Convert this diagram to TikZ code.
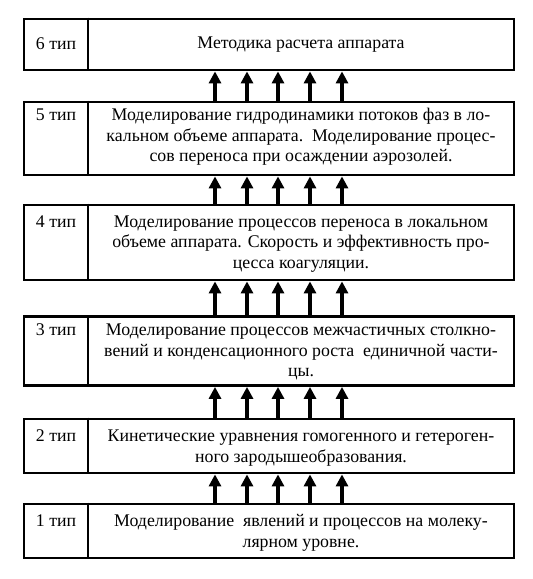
\documentclass[tikz,border=0pt]{standalone}
\usepackage{fontspec}
\setmainfont{Liberation Serif}
\usepackage{tikz}
\usetikzlibrary{positioning}
\usetikzlibrary{arrows.meta}
\tikzset{box/.style={draw, line width=2.8pt, minimum width=490pt, inner sep=0pt}}
\tikzset{txt/.style={align=center, font=\fontsize{17.8}{20.5}\selectfont, inner sep=0pt}}
\tikzset{up/.style={line width=3.6pt, -{Triangle[width=12pt,length=12pt]}}}

\begin{document}
\begin{tikzpicture}[x=1pt,y=-1pt]
\useasboundingbox (0,0) rectangle (533,579);
% boxes
\node[box, minimum height=51pt] (b6) at (269,44.5) {};
\node[box, minimum height=73pt] (b5) at (269,138.5) {};
\node[box, minimum height=75pt] (b4) at (269,242.5) {};
\node[box, minimum height=69pt] (b3) at (269,351) {};
\node[box, minimum height=54pt] (b2) at (269,446) {};
\node[box, minimum height=54pt] (b1) at (269,531) {};
\foreach \i in {1,...,6} {
\draw[line width=2.8pt] (b\i.north -| 88,0) -- (b\i.south -| 88,0);
}
% texts
\node[txt] (t6) at (301,45) {Методика расчета аппарата};
\node[txt] (t5) at (301,137) {Моделирование гидродинамики потоков фаз в ло-\\
кальном объеме аппарата.\ \ Моделирование процес-\\
сов переноса при осаждении аэрозолей.};
\node[txt] (t4) at (301,244) {Моделирование процессов переноса в локальном\\
объеме аппарата. Скорость и эффективность про-\\
цесса коагуляции.};
\node[txt] (t3) at (301,352) {Моделирование процессов межчастичных столкно-\\
вений и конденсационного роста\ \ единичной части-\\
цы.};
\node[txt] (t2) at (301,448) {Кинетические уравнения гомогенного и гетероген-\\
ного зародышеобразования.};
\node[txt] (t1) at (301,533) {Моделирование\ \ явлений и процессов на молеку-\\
лярном уровне.};
\foreach \i in {1,...,6} {
\node[txt, anchor=north] (l\i) at (t\i.north -| 56,0) {\i{} тип};
}
% arrows
\foreach \a/\b in {1/2,2/3,3/4,4/5,5/6} {
\foreach \x in {215,247,278,310,342} {
\draw[up] (b\a.north -| \x,0) -- (b\b.south -| \x,0);
}
}
\end{tikzpicture}
\end{document}
